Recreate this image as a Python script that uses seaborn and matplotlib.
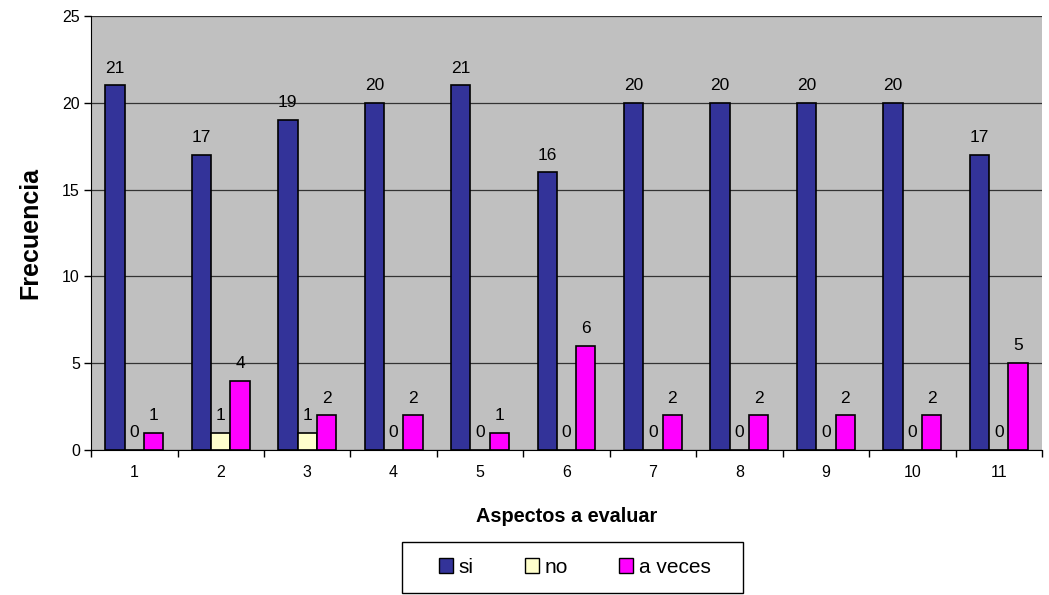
import seaborn as sns
import numpy as np
import matplotlib.pyplot as plt
import pandas as pd
from matplotlib.patches import Rectangle

# Data
aspectos = ['1', '2', '3', '4', '5', '6', '7', '8', '9', '10', '11']
si = [21, 17, 19, 20, 21, 16, 20, 20, 20, 20, 17]
no = [0, 1, 1, 0, 0, 0, 0, 0, 0, 0, 0]
a_veces = [1, 4, 2, 2, 1, 6, 2, 2, 2, 2, 5]
series = ['si', 'no', 'a veces']
colores = {'si': '#333399', 'no': '#FFFFCC', 'a veces': '#FF00FF'}

# Long-form table for seaborn
df = pd.DataFrame({
    'aspecto': aspectos * 3,
    'serie': ['si'] * 11 + ['no'] * 11 + ['a veces'] * 11,
    'valor': si + no + a_veces,
})

sns.set_style('white')
plt.rcParams['font.family'] = ['Liberation Sans', 'DejaVu Sans']
plt.rcParams['text.color'] = 'black'
plt.rcParams['axes.labelcolor'] = 'black'
plt.rcParams['xtick.color'] = 'black'
plt.rcParams['ytick.color'] = 'black'

fig, ax = plt.subplots(figsize=(10.49, 5.95), dpi=100)
fig.subplots_adjust(left=0.0868, right=0.9933, top=0.973, bottom=0.2437)

sns.barplot(data=df, x='aspecto', y='valor', hue='serie', hue_order=series,
            order=aspectos, palette=colores, width=0.67, edgecolor='black',
            linewidth=1.2, saturation=1, ax=ax, legend=True)

ax.set_facecolor('#C0C0C0')
ax.set_ylim(0, 25)
ax.set_xlim(-0.5, 10.5)
ax.set_yticks([0, 5, 10, 15, 20, 25])
ax.yaxis.grid(True, color='#333333', linewidth=0.9)
ax.set_axisbelow(True)

# Value labels on every bar
for cont in ax.containers:
    ax.bar_label(cont, padding=7, fontsize=12.5)

# Spines like Excel
for s in ['top', 'right']:
    ax.spines[s].set_visible(False)
ax.spines['left'].set_color('black')
ax.spines['bottom'].set_color('black')

# Ticks: y outward, x at category boundaries
ax.tick_params(axis='y', direction='out', length=5, width=1, labelsize=11.5, left=True, pad=3)
ax.tick_params(axis='x', which='major', length=0, labelsize=11.5, pad=11)
ax.set_xticks(np.arange(-0.5, 11, 1), minor=True)
ax.tick_params(axis='x', which='minor', direction='out', length=5, width=1, bottom=True)

ax.set_xlabel('Aspectos a evaluar', fontsize=14.3, fontweight='bold', labelpad=19)
ax.set_ylabel('Frecuencia', fontsize=18, fontweight='bold', labelpad=14)

# Legend at the bottom; box drawn separately (behind) so it can be wider than its content
box_x, box_y, box_w, box_h = 0.3832, 0.0034, 0.3251, 0.0857
fig.patches.append(Rectangle((box_x, box_y), box_w, box_h, transform=fig.transFigure,
                             facecolor='white', edgecolor='black', linewidth=1, zorder=-1))
leg = ax.legend(loc='center', bbox_to_anchor=(box_x + box_w / 2 + 0.002, box_y + box_h / 2),
                bbox_transform=fig.transFigure, ncol=3, frameon=False, fontsize=15,
                handlelength=0.7, handleheight=0.7, handletextpad=0.25,
                columnspacing=2.45, borderpad=0, borderaxespad=0)
for h in leg.legend_handles:
    h.set_edgecolor('black')
    h.set_linewidth(1)

plt.savefig('out.png', dpi=100)
